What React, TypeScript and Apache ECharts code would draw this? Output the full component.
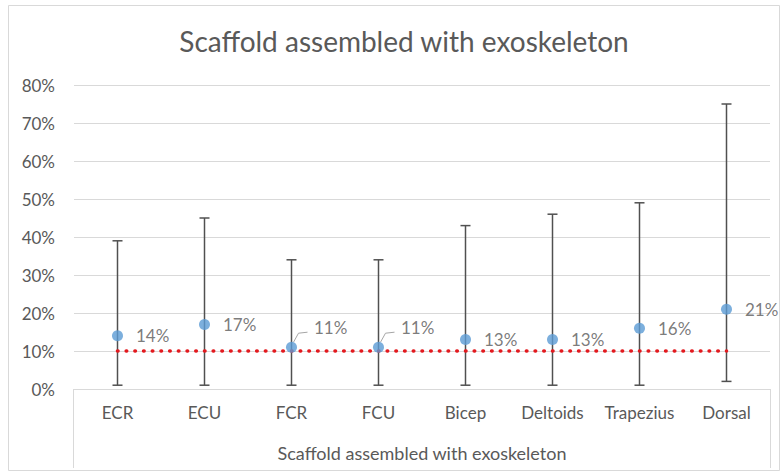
import React, { useEffect, useRef } from "react";
import * as echarts from "echarts";

const categories = ["ECR", "ECU", "FCR", "FCU", "Bicep", "Deltoids", "Trapezius", "Dorsal"];
const meanValues = [0.14, 0.17, 0.11, 0.11, 0.13, 0.13, 0.16, 0.21];
const lowValues = [0.01, 0.01, 0.01, 0.01, 0.01, 0.01, 0.01, 0.02];
const highValues = [0.39, 0.45, 0.34, 0.34, 0.43, 0.46, 0.49, 0.75];
const thresholdValues = [0.1, 0.1, 0.1, 0.1, 0.1, 0.1, 0.1, 0.1];
const leaderLabelIndices = [2, 3];
const yTicks = { min: 0, max: 0.8, interval: 0.1 };
const titleText = "Scaffold assembled with exoskeleton";
const axisGroupName = "Scaffold assembled with exoskeleton";

const FONT = "Lato, 'Open Sans', sans-serif";
const TEXT = "#595959";

export default function App() {
  const ref = useRef<HTMLDivElement>(null);
  useEffect(() => {
    document.body.style.margin = "0";
    const chart = echarts.init(ref.current!, null, { renderer: "svg" });
    const gridLeft = 74;
    const gridRight = 13;
    const gridTop = 85;
    const gridBottom = 84;
    const W = 783;
    const H = 473;
    const axisY = H - gridBottom;

    chart.setOption({
      animation: false,
      backgroundColor: "#fff",
      textStyle: { fontFamily: FONT },
      title: {
        text: titleText,
        left: 399,
        top: 22,
        textAlign: "center",
        textStyle: { color: TEXT, fontSize: 28, fontWeight: "normal", fontFamily: FONT },
      },
      grid: { left: gridLeft, right: gridRight, top: gridTop, bottom: gridBottom },
      xAxis: {
        type: "category",
        data: categories,
        boundaryGap: true,
        axisLine: { show: true, lineStyle: { color: "#D9D9D9", width: 1 } },
        axisTick: { show: false },
        axisLabel: { color: TEXT, fontSize: 17, margin: 15, fontFamily: FONT, interval: 0 },
        name: axisGroupName,
        nameLocation: "middle",
        nameGap: 55,
        nameTextStyle: { color: TEXT, fontSize: 18, fontFamily: FONT },
      },
      yAxis: {
        type: "value",
        min: yTicks.min,
        max: yTicks.max,
        interval: yTicks.interval,
        axisLine: { show: false },
        axisTick: { show: false },
        splitLine: { lineStyle: { color: "#D9D9D9", width: 1 } },
        axisLabel: {
          color: TEXT,
          fontSize: 17,
          margin: 19,
          fontFamily: FONT,
          formatter: (v: number) => Math.round(v * 100) + "%",
        },
      },
      graphic: [
        {
          type: "rect",
          shape: { x: 8.5, y: 5.5, width: 771, height: 465 },
          style: { fill: "none", stroke: "#D9D9D9", lineWidth: 1 },
          silent: true,
          z: -1,
        },
        {
          type: "line",
          shape: { x1: gridLeft - 0.5, y1: axisY, x2: gridLeft - 0.5, y2: 468 },
          style: { stroke: "#D9D9D9", lineWidth: 1 },
          silent: true,
        },
        {
          type: "line",
          shape: { x1: W - gridRight + 0.5, y1: axisY, x2: W - gridRight + 0.5, y2: 468 },
          style: { stroke: "#D9D9D9", lineWidth: 1 },
          silent: true,
        },
      ],
      series: [
        {
          type: "custom",
          name: "range",
          z: 2,
          data: categories.map((_, i) => [i, lowValues[i], highValues[i]]),
          renderItem: (params: any, api: any) => {
            const x = api.value(0);
            const lo = api.coord([x, api.value(1)]);
            const hi = api.coord([x, api.value(2)]);
            const cap = 5;
            const style = { stroke: "#505050", lineWidth: 1.5 };
            return {
              type: "group",
              children: [
                { type: "line", shape: { x1: lo[0], y1: lo[1], x2: hi[0], y2: hi[1] }, style },
                { type: "line", shape: { x1: lo[0] - cap, y1: lo[1], x2: lo[0] + cap, y2: lo[1] }, style },
                { type: "line", shape: { x1: hi[0] - cap, y1: hi[1], x2: hi[0] + cap, y2: hi[1] }, style },
              ],
            };
          },
        },
        {
          type: "line",
          name: "threshold",
          z: 3,
          data: thresholdValues,
          symbol: "none",
          lineStyle: { color: "#E3191E", width: 3.6, type: [0.5, 8.2], cap: "round" },
        },
        {
          type: "custom",
          name: "leaders",
          z: 4,
          data: leaderLabelIndices.map((i) => [i, meanValues[i]]),
          renderItem: (params: any, api: any) => {
            const p = api.coord([api.value(0), api.value(1)]);
            return {
              type: "polyline",
              shape: {
                points: [
                  [p[0] + 2, p[1] - 5],
                  [p[0] + 7, p[1] - 14],
                  [p[0] + 16, p[1] - 15],
                ],
              },
              style: { stroke: "#A6A6A6", lineWidth: 1, fill: "none" },
            };
          },
        },
        {
          type: "scatter",
          name: "mean",
          z: 5,
          symbol: "circle",
          symbolSize: 11,
          itemStyle: { color: "#5B9BD5" },
          data: meanValues.map((v, i) => ({
            value: v,
            label: leaderLabelIndices.includes(i)
              ? { offset: [4, -20] }
              : {},
          })),
          label: {
            show: true,
            position: "right",
            distance: 13,
            color: TEXT,
            fontSize: 17,
            fontFamily: FONT,
            formatter: (p: any) => Math.round(p.value * 100) + "%",
          },
        },
      ],
    });
    return () => chart.dispose();
  }, []);
  return <div ref={ref} style={{ width: 783, height: 473 }} />;
}
